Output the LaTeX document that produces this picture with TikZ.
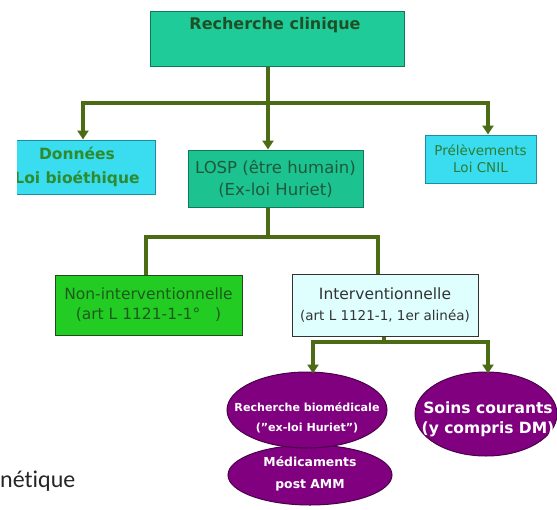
\documentclass[tikz,border=0pt]{standalone}
\usepackage{fontspec}
\setmainfont{DejaVu Sans}
\newfontfamily\calib[Ligatures={NoCommon}]{Carlito}
\usetikzlibrary{arrows.meta,shapes.geometric}
\definecolor{conn}{HTML}{4B6B14}
\definecolor{teal}{HTML}{1FCC99}
\definecolor{tealb}{HTML}{0E7A5A}
\definecolor{cyanf}{HTML}{3ADCF0}
\definecolor{cyanb}{HTML}{1A8FA0}
\definecolor{greenf}{HTML}{22CC22}
\definecolor{greenb}{HTML}{1A4D1A}
\definecolor{lcyan}{HTML}{DFFFFF}
\definecolor{purp}{HTML}{800080}
\definecolor{purpb}{HTML}{4B004B}
\definecolor{tdark}{HTML}{1E5028}
\definecolor{tgreen}{HTML}{2E8B2E}
\definecolor{tlosp}{HTML}{1E5A3A}
\definecolor{tprel}{HTML}{2E7D32}
\definecolor{tnon}{HTML}{1E5A1E}
\definecolor{tint}{HTML}{333333}
\tikzset{
  boxnode/.style={draw, line width=1pt, rectangle, inner sep=0pt, align=center},
  ellnode/.style={ellipse, draw=purpb, line width=1pt, fill=purp, inner sep=0pt},
  elltext/.style={inner sep=0pt, align=center, text=white},
  link/.style={draw=conn, line width=3.5pt},
  arr/.style={-{Triangle[width=11pt,length=9pt]}}
}
\begin{document}
\begin{tikzpicture}[x=1pt,y=-1pt]
\useasboundingbox (0,0) rectangle (557,509);
% top
\node[boxnode, draw=tealb, fill=teal, minimum width=254pt, minimum height=55pt] (top) at (277,38.5) {};
\node[font=\fontsize{16}{19}\selectfont\bfseries, text=tdark] (toptxt) at (275,25) {Recherche clinique};
% Données (cropped at left)
\begin{scope}
\clip (17,0) rectangle (557,509);
\node[boxnode, draw=cyanb, fill=cyanf, minimum width=156pt, minimum height=54pt, text=tgreen, font=\fontsize{15.5}{24}\selectfont\bfseries] (don) at (77,167) {Données\\Loi bioéthique};
\end{scope}
% LOSP
\node[boxnode, draw=tealb, fill=teal!95!black, minimum width=175pt, minimum height=57pt, text=tlosp, font=\fontsize{16.5}{22}\selectfont] (losp) at (275.5,178.5) {LOSP (être humain)\\(Ex-loi Huriet)};
% Prélèvements
\node[boxnode, draw=cyanb, fill=cyanf, minimum width=111pt, minimum height=48pt, text=tprel, font=\fontsize{13.5}{17}\selectfont] (prel) at (480.5,159) {Prélèvements\\Loi CNIL};
% Non-interventionnelle
\node[boxnode, draw=greenb, fill=greenf, minimum width=187pt, minimum height=60pt, text=tnon, font=\fontsize{15.5}{20}\selectfont] (non) at (148.5,305) {Non-interventionnelle\\(art L 1121-1-1°\ \ \ )};
% Interventionnelle
\node[boxnode, draw=tint, fill=lcyan, minimum width=186pt, minimum height=62pt, text=tint, font=\fontsize{13.5}{20}\selectfont] (int) at (385,305) {{\fontsize{15.5}{20}\selectfont Interventionnelle}\\[1pt](art L 1121-1, 1er alinéa)};
% ellipses
\node[ellnode, minimum width=164pt, minimum height=60pt] (e3) at (310,475) {};
\node[elltext, font=\fontsize{12.4}{22}\selectfont\bfseries] (e3t) at (310,474) {Médicaments\\post AMM};
\node[ellnode, minimum width=160pt, minimum height=76pt] (e1) at (307,410) {};
\node[elltext, font=\fontsize{11.1}{20}\selectfont\bfseries] (e1t) at (307,418) {Recherche biomédicale\\(\symbol{34}ex-loi Huriet\symbol{34})};
\node[ellnode, minimum width=142pt, minimum height=84pt] (e2) at (486,414) {};
\node[elltext, font=\fontsize{15.5}{20}\selectfont\bfseries] (e2t) at (488,419) {Soins courants\\(y compris DM)};
% text at left
\node[anchor=base west, inner sep=0pt, font=\calib\fontsize{24}{28}\selectfont, text=black!85] (gen) at (0,487) {nétique};
% connectors level 1
\coordinate (j1) at (268,103);
\draw[link] (top.south -| j1) -- (j1);
\draw[link, arr] (j1) -| ([xshift=6pt]don.north);
\draw[link, arr] (j1) -- (losp.north -| j1);
\draw[link, arr] (j1) -| ([xshift=7.5pt]prel.north);
% connectors level 2
\coordinate (j2) at (268,237);
\draw[link] (losp.south -| j2) -- (j2);
\draw[link] (j2) -| ([xshift=-2.5pt]non.north);
\draw[link] (j2) -| ([xshift=-7pt]int.north);
% connectors level 3
\coordinate (j3) at (384,342);
\draw[link] (int.south -| j3) -- (j3);
\draw[link, arr] (j3) -| ([xshift=6pt,yshift=-2pt]e1.north);
\draw[link, arr] (j3) -| ([xshift=2pt,yshift=-2pt]e2.north);
\end{tikzpicture}
\end{document}
